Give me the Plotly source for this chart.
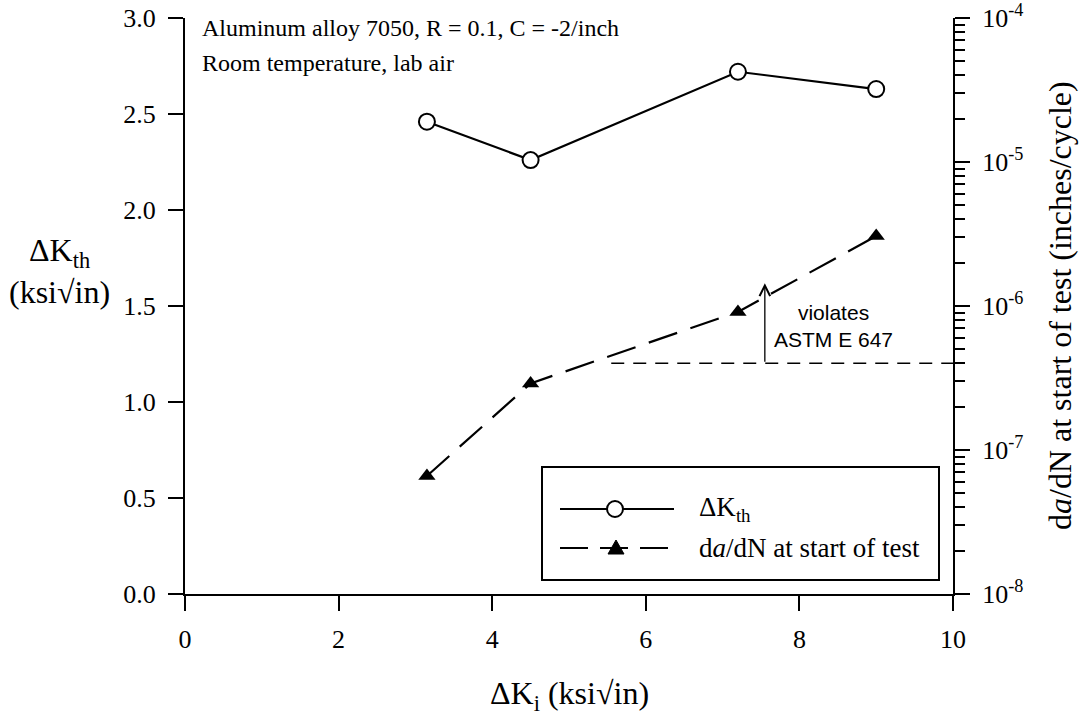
import math
import plotly.graph_objects as go

# ---- data ----
dk_i = [3.15, 4.5, 7.2, 9.0]                 # ΔK_i (ksi√in)
dk_th = [2.46, 2.26, 2.72, 2.63]             # ΔK_th (ksi√in)
dadn_start = [6.6e-8, 2.9e-7, 9.1e-7, 3.06e-6]  # da/dN at start of test (in/cycle)

astm_x = [5.55, 10.0]
astm_limit = [4.0e-7, 4.0e-7]                # ASTM E 647 limit line

arrow_x = 7.55
arrow_from = 4.0e-7
arrow_to = 1.44e-6

x_ticks = [0, 2, 4, 6, 8, 10]
y_ticks = [0.0, 0.5, 1.0, 1.5, 2.0, 2.5, 3.0]
y_tick_text = ["0.0", "0.5", "1.0", "1.5", "2.0", "2.5", "3.0"]
y2_ticks = [1e-8, 1e-7, 1e-6, 1e-5, 1e-4]
y2_tick_text = ["10<sup>-8</sup>", "10<sup>-7</sup>", "10<sup>-6</sup>", "10<sup>-5</sup>", "10<sup>-4</sup>"]
y2_minor = [m * d for d in [1e-8, 1e-7, 1e-6, 1e-5] for m in range(2, 10)]

SERIF = "Liberation Serif, Times New Roman, serif"
SANS = "Liberation Sans, Arial, sans-serif"
FS_TICK = 26
FS_TITLE = 32
FS_NOTE = 24
FS_LEG = 27

# plot area target: x 185..953, y 18..594 (window px); body margin removed in post_script
L, R, T, B = 185, 1084 - 953, 18, 719 - 594

fig = go.Figure()

fig.add_trace(go.Scatter(
    x=dk_i, y=dk_th, mode="lines+markers", name="ΔK<sub>th</sub>",
    line=dict(color="black", width=2.2),
    marker=dict(symbol="circle", size=16, color="white", line=dict(color="black", width=2)),
    showlegend=False, yaxis="y"))

fig.add_trace(go.Scatter(
    x=dk_i, y=dadn_start, mode="lines+markers", name="d<i>a</i>/dN at start of test",
    line=dict(color="black", width=2.2, dash="30px,14px"),
    marker=dict(symbol="triangle-up", size=15, color="black"),
    showlegend=False, yaxis="y2"))

fig.add_trace(go.Scatter(
    x=astm_x, y=astm_limit, mode="lines",
    line=dict(color="black", width=1.5, dash="13px,9px"),
    showlegend=False, yaxis="y2", hoverinfo="skip"))

axis_common = dict(showgrid=False, zeroline=False, showline=True, linecolor="black",
                   linewidth=2, ticks="outside", ticklen=15, tickwidth=2, tickcolor="black",
                   automargin=False, ticklabeloverflow="allow",
                   tickfont=dict(family=SERIF, size=FS_TICK, color="black"))

fig.update_layout(
    width=1084, height=719,
    margin=dict(l=L, r=R, t=T, b=B, autoexpand=False),
    paper_bgcolor="white", plot_bgcolor="white",
    font=dict(family=SERIF, size=FS_TICK, color="black"),
    xaxis=dict(range=[0, 10], tickvals=x_ticks, ticklabelstandoff=6, **axis_common),
    yaxis=dict(range=[0, 3], tickvals=y_ticks, ticktext=y_tick_text, ticklabelstandoff=7,
               **axis_common),
    yaxis2=dict(type="log", range=[-8, -4], overlaying="y", side="right",
                tickvals=y2_ticks, ticktext=y2_tick_text, ticklabelstandoff=7,
                minor=dict(tickvals=y2_minor, ticks="outside", ticklen=10, tickwidth=2, tickcolor="black"),
                **axis_common),
)

def px_x(p):
    return (p - 185) / 768

def px_y(p):
    return (594 - p) / 576

annotations = [
    dict(xref="paper", yref="paper", x=px_x(200), y=px_y(28), xanchor="left", yanchor="middle",
         text="Aluminum alloy 7050, R = 0.1, C = -2/inch", showarrow=False,
         font=dict(family=SERIF, size=FS_NOTE)),
    dict(xref="paper", yref="paper", x=px_x(200), y=px_y(63), xanchor="left", yanchor="middle",
         text="Room temperature, lab air", showarrow=False,
         font=dict(family=SERIF, size=FS_NOTE)),
    # axis titles
    dict(xref="paper", yref="paper", x=px_x(59), y=px_y(271), xanchor="center",
         yanchor="middle", text="ΔK<sub>th</sub><br>(ksi√in)", showarrow=False,
         font=dict(family=SERIF, size=FS_TITLE)),
    dict(xref="paper", yref="paper", x=0.5, y=px_y(695), xanchor="center",
         yanchor="middle", text="ΔK<sub>i</sub> (ksi√in)", showarrow=False,
         font=dict(family=SERIF, size=FS_TITLE)),
    dict(xref="paper", yref="paper", x=px_x(1060), y=0.5, xanchor="center",
         yanchor="middle", textangle=-90, text="d<i>a</i>/dN at start of test (inches/cycle)",
         showarrow=False, font=dict(family=SERIF, size=FS_TITLE)),
    # ASTM arrow + note
    dict(xref="x", yref="y2", x=arrow_x, y=math.log10(arrow_to),
         axref="x", ayref="y2", ax=arrow_x, ay=math.log10(arrow_from),
         text="", showarrow=True, arrowhead=5, arrowsize=1.6, arrowwidth=1.3, arrowcolor="black",
         standoff=0, startstandoff=0),
    dict(xref="paper", yref="paper", x=px_x(833), y=px_y(326), xanchor="center",
         yanchor="middle", text="violates<br>ASTM E 647", showarrow=False,
         font=dict(family=SANS, size=21)),
    # legend text
    dict(xref="paper", yref="paper", x=px_x(697), y=px_y(509), xanchor="left",
         yanchor="middle", text="ΔK<sub>th</sub>", showarrow=False, font=dict(family=SERIF, size=FS_LEG)),
    dict(xref="paper", yref="paper", x=px_x(697), y=px_y(548), xanchor="left",
         yanchor="middle", text="d<i>a</i>/dN at start of test", showarrow=False,
         font=dict(family=SERIF, size=FS_LEG)),
]
fig.update_layout(annotations=annotations)

shapes = [
    dict(type="rect", xref="paper", yref="paper", x0=px_x(542), x1=px_x(939), y0=px_y(580), y1=px_y(467),
         line=dict(color="black", width=2), fillcolor="white", layer="above"),
    dict(type="line", xref="paper", yref="paper", x0=px_x(560), x1=px_x(674), y0=px_y(509), y1=px_y(509),
         line=dict(color="black", width=2), layer="above"),
    dict(type="circle", xref="paper", yref="paper", xsizemode="pixel", ysizemode="pixel",
         xanchor=px_x(615), yanchor=px_y(509), x0=-8, x1=8, y0=-8, y1=8,
         line=dict(color="black", width=2), fillcolor="white", layer="above"),
    dict(type="line", xref="paper", yref="paper", x0=px_x(560), x1=px_x(668), y0=px_y(548), y1=px_y(548),
         line=dict(color="black", width=2, dash="28px,12px"), layer="above"),
    dict(type="path", xref="paper", yref="paper", xsizemode="pixel", ysizemode="pixel",
         xanchor=px_x(616), yanchor=px_y(548), path="M -8,-6 L 8,-6 L 0,8 Z",
         line=dict(color="black", width=1), fillcolor="black", layer="above"),
]
fig.update_layout(shapes=shapes)

fig.write_html("out.html",
               config={"displayModeBar": False},
               post_script="document.body.style.margin='0';document.body.style.padding='0';")
